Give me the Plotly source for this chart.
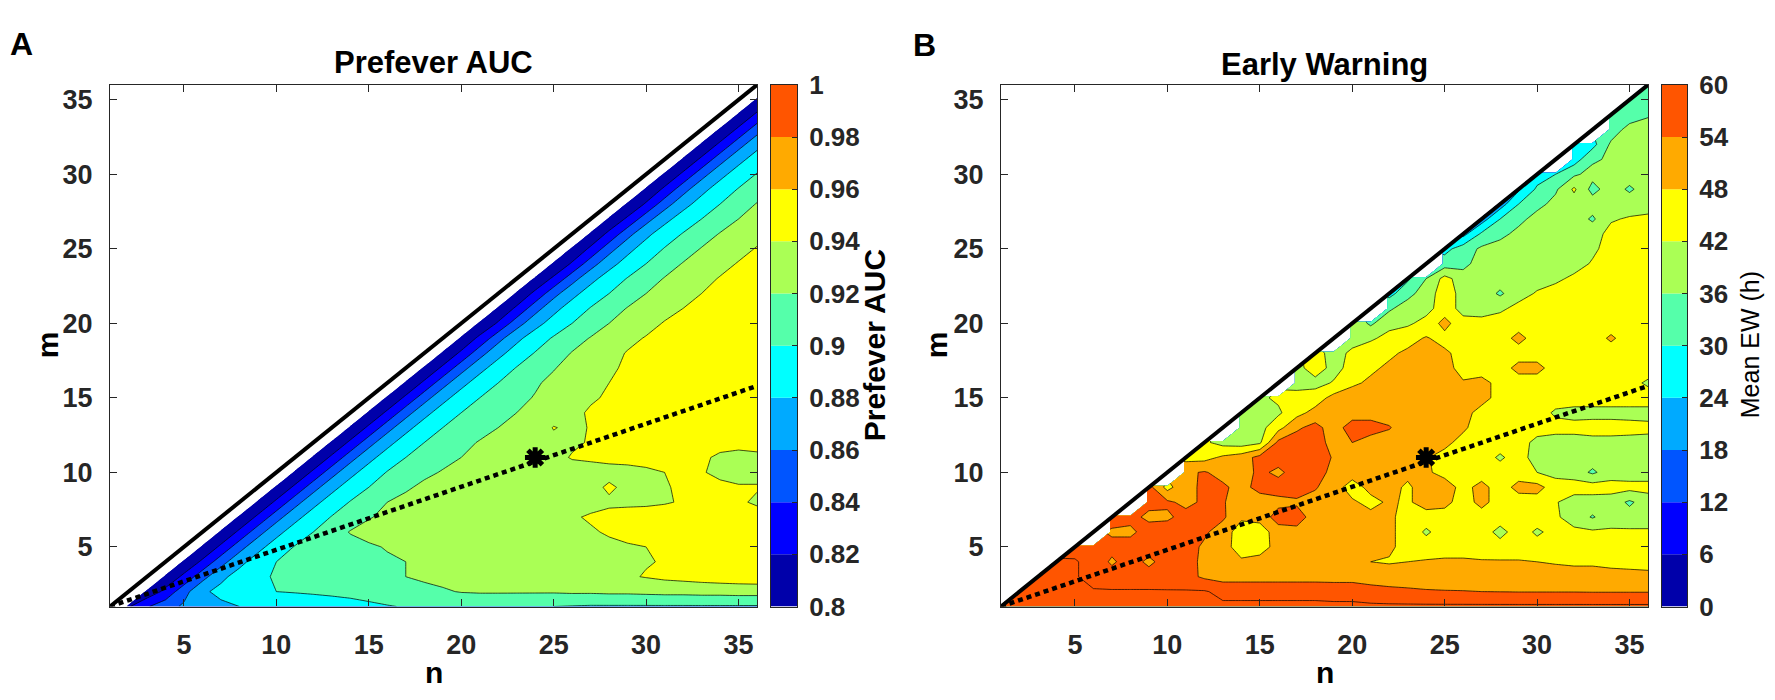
import plotly.graph_objects as go

W, H = 1775, 700

# grid coordinates (window sizes n and m)
n_values = list(range(1, 37))
m_values = list(range(1, 37))

# Panel A: prefever AUC, one row per m, values for n = m+1 .. 36
auc_rows = [
    [0.818, 0.838, 0.852, 0.863, 0.869, 0.875, 0.880, 0.884, 0.887, 0.889, 0.891, 0.893, 0.895, 0.897, 0.899, 0.901, 0.902, 0.903, 0.903, 0.903, 0.903, 0.902, 0.901, 0.900, 0.899, 0.898, 0.898, 0.898, 0.898, 0.898, 0.898, 0.898, 0.898, 0.898, 0.898],
    [0.806, 0.825, 0.853, 0.876, 0.886, 0.892, 0.896, 0.900, 0.901, 0.902, 0.903, 0.904, 0.906, 0.909, 0.912, 0.915, 0.918, 0.921, 0.922, 0.922, 0.922, 0.922, 0.922, 0.923, 0.923, 0.924, 0.924, 0.925, 0.926, 0.926, 0.927, 0.927, 0.928, 0.928],
    [0.806, 0.824, 0.853, 0.875, 0.888, 0.896, 0.902, 0.905, 0.907, 0.909, 0.911, 0.914, 0.917, 0.920, 0.923, 0.925, 0.927, 0.928, 0.929, 0.930, 0.931, 0.932, 0.933, 0.934, 0.936, 0.938, 0.941, 0.944, 0.946, 0.948, 0.950, 0.951, 0.952],
    [0.806, 0.823, 0.852, 0.874, 0.889, 0.900, 0.906, 0.909, 0.912, 0.914, 0.916, 0.918, 0.920, 0.923, 0.926, 0.928, 0.930, 0.931, 0.932, 0.933, 0.934, 0.935, 0.936, 0.937, 0.938, 0.939, 0.941, 0.944, 0.946, 0.948, 0.949, 0.950],
    [0.806, 0.823, 0.852, 0.874, 0.889, 0.901, 0.906, 0.910, 0.914, 0.918, 0.921, 0.924, 0.926, 0.928, 0.930, 0.931, 0.932, 0.933, 0.934, 0.935, 0.936, 0.937, 0.938, 0.939, 0.940, 0.942, 0.944, 0.946, 0.948, 0.949, 0.950],
    [0.806, 0.823, 0.852, 0.874, 0.889, 0.900, 0.912, 0.921, 0.925, 0.927, 0.929, 0.930, 0.931, 0.932, 0.933, 0.934, 0.935, 0.936, 0.937, 0.938, 0.939, 0.941, 0.943, 0.945, 0.947, 0.948, 0.948, 0.948, 0.948, 0.948],
    [0.806, 0.823, 0.852, 0.874, 0.889, 0.901, 0.911, 0.919, 0.923, 0.926, 0.928, 0.930, 0.931, 0.932, 0.933, 0.934, 0.935, 0.937, 0.939, 0.941, 0.943, 0.944, 0.945, 0.946, 0.947, 0.947, 0.947, 0.946, 0.946],
    [0.806, 0.823, 0.852, 0.874, 0.889, 0.901, 0.911, 0.920, 0.924, 0.927, 0.929, 0.931, 0.932, 0.933, 0.934, 0.935, 0.936, 0.937, 0.937, 0.938, 0.938, 0.938, 0.939, 0.941, 0.943, 0.944, 0.942, 0.938],
    [0.806, 0.823, 0.852, 0.874, 0.889, 0.900, 0.910, 0.918, 0.923, 0.926, 0.928, 0.930, 0.931, 0.932, 0.933, 0.934, 0.935, 0.936, 0.942, 0.937, 0.937, 0.939, 0.942, 0.944, 0.943, 0.941, 0.941],
    [0.806, 0.823, 0.852, 0.874, 0.889, 0.901, 0.911, 0.917, 0.921, 0.924, 0.926, 0.928, 0.930, 0.931, 0.933, 0.934, 0.935, 0.936, 0.937, 0.938, 0.940, 0.942, 0.941, 0.937, 0.936, 0.936],
    [0.806, 0.823, 0.852, 0.874, 0.889, 0.900, 0.910, 0.916, 0.920, 0.924, 0.927, 0.930, 0.933, 0.936, 0.941, 0.942, 0.943, 0.943, 0.944, 0.944, 0.945, 0.943, 0.937, 0.936, 0.937],
    [0.806, 0.823, 0.852, 0.874, 0.889, 0.900, 0.909, 0.916, 0.921, 0.925, 0.929, 0.932, 0.935, 0.938, 0.941, 0.944, 0.946, 0.947, 0.948, 0.948, 0.948, 0.946, 0.944, 0.945],
    [0.806, 0.823, 0.852, 0.874, 0.889, 0.900, 0.909, 0.915, 0.920, 0.925, 0.929, 0.941, 0.936, 0.941, 0.944, 0.946, 0.948, 0.948, 0.949, 0.949, 0.949, 0.949, 0.949],
    [0.806, 0.823, 0.852, 0.874, 0.889, 0.900, 0.909, 0.915, 0.920, 0.925, 0.930, 0.936, 0.942, 0.944, 0.946, 0.948, 0.949, 0.949, 0.950, 0.950, 0.950, 0.950],
    [0.806, 0.823, 0.852, 0.874, 0.889, 0.900, 0.909, 0.916, 0.921, 0.927, 0.932, 0.938, 0.942, 0.945, 0.947, 0.948, 0.949, 0.950, 0.950, 0.950, 0.950],
    [0.806, 0.823, 0.852, 0.874, 0.889, 0.900, 0.909, 0.918, 0.924, 0.930, 0.936, 0.940, 0.944, 0.947, 0.948, 0.949, 0.950, 0.950, 0.950, 0.950],
    [0.806, 0.823, 0.852, 0.874, 0.889, 0.901, 0.910, 0.919, 0.926, 0.932, 0.938, 0.942, 0.945, 0.947, 0.948, 0.949, 0.950, 0.950, 0.950],
    [0.806, 0.823, 0.852, 0.874, 0.889, 0.901, 0.911, 0.921, 0.928, 0.935, 0.941, 0.945, 0.948, 0.949, 0.950, 0.950, 0.950, 0.950],
    [0.806, 0.824, 0.853, 0.875, 0.890, 0.902, 0.912, 0.921, 0.929, 0.936, 0.941, 0.945, 0.948, 0.949, 0.950, 0.950, 0.950],
    [0.805, 0.822, 0.851, 0.873, 0.888, 0.900, 0.910, 0.920, 0.928, 0.935, 0.941, 0.945, 0.948, 0.949, 0.950, 0.950],
    [0.806, 0.823, 0.852, 0.874, 0.889, 0.901, 0.911, 0.921, 0.928, 0.935, 0.940, 0.944, 0.947, 0.949, 0.950],
    [0.806, 0.824, 0.853, 0.874, 0.889, 0.900, 0.910, 0.920, 0.927, 0.934, 0.940, 0.944, 0.947, 0.949],
    [0.806, 0.823, 0.852, 0.874, 0.889, 0.901, 0.911, 0.921, 0.928, 0.935, 0.941, 0.945, 0.948],
    [0.805, 0.822, 0.851, 0.873, 0.888, 0.900, 0.911, 0.921, 0.928, 0.935, 0.941, 0.945],
    [0.806, 0.823, 0.852, 0.874, 0.889, 0.901, 0.911, 0.921, 0.928, 0.935, 0.941],
    [0.806, 0.824, 0.853, 0.875, 0.890, 0.901, 0.911, 0.921, 0.928, 0.935],
    [0.806, 0.823, 0.852, 0.874, 0.889, 0.900, 0.910, 0.920, 0.928],
    [0.805, 0.822, 0.851, 0.873, 0.888, 0.900, 0.911, 0.921],
    [0.806, 0.823, 0.852, 0.874, 0.889, 0.901, 0.911],
    [0.806, 0.823, 0.852, 0.874, 0.889, 0.901],
    [0.806, 0.823, 0.852, 0.874, 0.889],
    [0.806, 0.823, 0.852, 0.874],
    [0.806, 0.823, 0.852],
    [0.806, 0.823],
    [0.806],
]

# Panel B: mean early warning (h), one row per m, values for n = m .. 36
ew_rows = [
    [61.5, 61.5, 61.5, 61.5, 61.5, 61.5, 61.5, 61.5, 61.5, 61.5, 61.5, 61.5, 61, 61, 61, 61, 61, 61, 61, 61, 61, 61, 61, 61, 61, 61, 61, 61, 61, 61, 61, 61, 61, 61, 61, 61],
    [61.5, 61.5, 61, 61, 60.5, 60.5, 60.5, 60.5, 60.5, 60.5, 60.5, 58.5, 58.5, 58.5, 58.5, 58.5, 58.5, 58, 58, 56.5, 55.5, 55, 54.5, 54.3, 54.2, 54, 53.9, 53.8, 53.8, 53.8, 53.8, 53.7, 53.7, 53.7, 53.7],
    [60.5, 60.5, 60.5, 58, 57, 57, 57, 56.5, 56, 53, 51.5, 51.5, 51.5, 51.5, 51.5, 51.5, 51.5, 51.5, 51, 51, 51, 51, 51, 51, 51, 50.5, 50.5, 50.5, 50.5, 50.5, 50.5, 50, 50, 49.5],
    [60.5, 60.5, 58, 53, 57, 52.5, 57, 56.5, 52.5, 51, 49, 50.5, 51, 51, 50.5, 50, 49.5, 48, 47.5, 48, 48.5, 49, 49, 48.5, 48.5, 48.5, 48, 47.5, 47, 47, 46.5, 46, 46],
    [58, 57, 56, 57, 57, 57, 56.5, 53, 50.5, 45, 45, 50.5, 51, 51, 50.5, 50, 49.5, 49, 46, 45, 45, 45, 45, 44.5, 44.5, 44.5, 45, 45, 45, 45.5, 45.5, 45.5],
    [None, 53, 52.5, 57, 57, 57, 55, 51, 45, 45, 51, 52, 51, 51, 50.5, 50, 49, 46, 41, 45, 45, 45, 40, 45, 41, 44, 43.5, 43, 43, 43, 43],
    [57, 56, 52.5, 53, 56, 56, 55, 49, 50, 57, 57, 51, 51, 50.5, 50, 49, 46, 45, 45, 45, 45, 45, 45, 45, 43, 39, 35.5, 39, 38.5, 38.5],
    [None, 56, 55, 52.5, 55, 54.5, 51, 51, 52, 53, 52, 51, 49, 46, 49, 47, 51, 50, 45, 50, 45, 45, 45.5, 42.5, 39, 39, 39, 35, 39],
    [56, 46, 52.5, 55, 55, 52, 56, 57, 57, 54.5, 51, 45, 50, 50, 47, 51, 51, 46, 50, 45, 50, 50, 45, 45, 45, 44.5, 44, 44],
    [None, 53, 54.5, 52, 51, 55.5, 52.5, 57, 57, 52, 51, 50.5, 50, 49.5, 49, 46, 45, 45, 45, 45, 42, 40, 39, 35, 39, 39, 39],
    [46, 46, 49, 51, 56, 57, 57, 57, 53.5, 51, 51, 50.5, 50, 48.5, 46, 45, 45, 41, 45, 39, 39, 39, 39, 40, 39, 39],
    [43, 40, 39, 41, 55.5, 57, 56.5, 52, 54, 51, 50.5, 50, 50, 49.5, 46, 45, 45, 45, 40, 39.5, 39.5, 40, 40, 40, 40],
    [None, 40, 40, 46, 53, 56, 51, 57, 57, 54.5, 50, 50, 50, 49, 45, 45, 45, 45, 44, 44, 44.5, 44.5, 44, 43.5],
    [40, 40, 41, 46, 50, 51, 51, 51, 51, 51, 51, 51, 50, 46, 45, 46, 45, 41, 40, 40, 40, 40, 40],
    [41, 43, 44, 45, 50, 51, 51, 51, 51, 51, 51, 50, 50, 46, 45, 45, 45, 45, 45, 45, 45, 45],
    [None, 40, 40, 42.5, 47, 49, 50, 51, 51, 50, 48.5, 50, 46, 45, 45, 45, 45, 45, 45, 44, 41],
    [40, 45, 40, 44, 47, 49, 50, 50.5, 50, 46, 45, 45, 50, 50, 45, 45, 45, 45, 45, 45],
    [44, 40, 43, 46, 47, 49, 50, 49, 46, 45, 45, 45, 45, 45, 45, 45, 45, 45, 45],
    [None, 40, 41, 44, 46, 48.5, 46, 45, 45, 45, 50, 45, 45, 45, 45, 49, 45, 43],
    [40, 35, 40, 41, 44, 50, 44, 43.5, 44.5, 45, 45, 45, 45, 45, 45, 45, 45],
    [None, 35, 39, 40, 45, 40, 40, 41, 43.5, 44.5, 45, 45, 45, 45, 45, 45],
    [28, 34, 39, 45, 40, 39.5, 35, 40, 42.5, 44, 45, 45, 45, 45, 45],
    [29, 36, 44, 39, 39, 39, 39, 40, 41, 43, 44.5, 45, 45, 45],
    [None, 33, 34, 39, 39, 39, 39, 39, 40, 42.5, 44, 45, 45],
    [28, 33, 37, 39, 39, 39, 39, 39, 41, 44, 45, 45],
    [22, 31, 34, 38, 39, 39, 39, 40, 43.5, 44.5, 45],
    [21, 30, 34, 38.5, 39, 39.5, 35, 41.5, 42.5, 43],
    [21, 30, 34, 38, 39, 39, 39, 39.5, 40],
    [23, 31, 35, 43, 34, 39, 35, 39],
    [27, 30, 35, 38, 39, 39, 39],
    [None, 27, 35, 37, 39, 39],
    [27, 28, 37, 38, 39],
    [None, 33, 38, 38],
    [32, 33, 35.5],
    [33, 33],
    [33],
]

auc_levels = [0.80, 0.82, 0.84, 0.86, 0.88, 0.90, 0.92, 0.94, 0.96, 0.98, 1.00]
auc_tick_text = ["0.8", "0.82", "0.84", "0.86", "0.88", "0.9", "0.92", "0.94", "0.96", "0.98", "1"]
ew_levels = [0, 6, 12, 18, 24, 30, 36, 42, 48, 54, 60]
ew_tick_text = ["0", "6", "12", "18", "24", "30", "36", "42", "48", "54", "60"]

# MATLAB jet(10)
jet10 = ["#0000AA", "#0000FF", "#0055FF", "#00AAFF", "#00FFFF",
         "#55FFAA", "#AAFF55", "#FFFF00", "#FFAA00", "#FF5500"]

diag_n, diag_m = [1, 36], [1, 36]
ratio_n, ratio_m = [1, 36], [1, 15.8]
best_n, best_m = [24], [11]

FONT = "Liberation Sans, Arial, Helvetica, sans-serif"
INK = "#262626"


def to_grid(rows, lead):
    """Place each row on the full n grid; lead = number of empty cells before n=m."""
    grid = []
    for i, m in enumerate(m_values):
        row = list(rows[i]) if i < len(rows) else []
        line = [None] * (m - 1 + lead) + row
        line = (line + [None] * len(n_values))[:len(n_values)]
        grid.append(line)
    return grid


auc_grid = [[None if v is None else v * 100 for v in r] for r in to_grid(auc_rows, 1)]
ew_grid = to_grid(ew_rows, 0)

# band k (between level k and k+1) is coloured at (k+1)/11 of the scale
band_scale = [[0, jet10[0]]] + [[(k + 1) / 11, c] for k, c in enumerate(jet10)] + [[1, jet10[-1]]]


def px_x(p):
    return p / W


def px_y(p):
    return 1 - p / H


fig = go.Figure()

panels = [
    ("x", "y", auc_grid, [round(v * 100) for v in auc_levels]),
    ("x2", "y2", ew_grid, ew_levels),
]
for xa, ya, grid, lv in panels:
    fig.add_trace(go.Contour(
        x=n_values, y=m_values, z=grid,
        autocontour=False,
        contours=dict(start=lv[0], end=lv[-1], size=lv[1] - lv[0], coloring="fill", showlines=True),
        line=dict(color="black", width=0.7, smoothing=0),
        colorscale=band_scale, showscale=False, connectgaps=False,
        hoverinfo="skip", xaxis=xa, yaxis=ya,
    ))
    fig.add_trace(go.Scatter(x=diag_n, y=diag_m, mode="lines",
                             line=dict(color="black", width=4),
                             xaxis=xa, yaxis=ya, hoverinfo="skip"))
    fig.add_trace(go.Scatter(x=ratio_n, y=ratio_m, mode="lines",
                             line=dict(color="black", width=4.5, dash="5px,4px"),
                             xaxis=xa, yaxis=ya, hoverinfo="skip"))
    fig.add_trace(go.Scatter(x=best_n, y=best_m, mode="markers",
                             marker=dict(symbol="asterisk", size=17, color="black",
                                         line=dict(color="black", width=5)),
                             xaxis=xa, yaxis=ya, hoverinfo="skip"))

# colour bars drawn as stacked bands
bars = [
    ("x3", "y3", [round(v * 100) for v in auc_levels]),
    ("x4", "y4", ew_levels),
]
for xa, ya, lv in bars:
    fig.add_trace(go.Bar(
        x=[0] * (len(lv) - 1),
        y=[b - a for a, b in zip(lv[:-1], lv[1:])],
        base=lv[:-1], width=1,
        marker=dict(color=jet10, line=dict(width=0)),
        xaxis=xa, yaxis=ya, hoverinfo="skip",
    ))

tick_font = dict(family=FONT, size=27, color=INK, weight="bold")
main_axis = dict(range=[1, 36], tickvals=[5, 10, 15, 20, 25, 30, 35],
                 showgrid=False, zeroline=False, showline=True, mirror="ticks",
                 linecolor=INK, linewidth=1.2, ticks="inside", ticklen=7,
                 tickwidth=1.2, tickcolor=INK, tickfont=tick_font)
y_dom = [px_y(618), px_y(73)]

cb_x = dict(range=[-0.5, 0.5], showticklabels=False, ticks="", showgrid=False,
            zeroline=False, showline=True, mirror=True, linecolor=INK, linewidth=1,
            fixedrange=True)
cb_y = dict(side="right", showgrid=False, zeroline=False, showline=True, mirror=True,
            linecolor=INK, linewidth=1, ticks="inside", ticklen=5, tickcolor=INK,
            tickfont=dict(family=FONT, size=26, color=INK, weight="bold"),
            ticklabelstandoff=6)

fig.update_layout(
    width=W, height=H, margin=dict(l=0, r=0, t=0, b=0),
    paper_bgcolor="white", plot_bgcolor="white", showlegend=False, barmode="overlay",
    xaxis=dict(main_axis, domain=[px_x(110), px_x(757)], anchor="y", ticklabelstandoff=14),
    yaxis=dict(main_axis, domain=y_dom, anchor="x", ticklabelstandoff=11),
    xaxis2=dict(main_axis, domain=[px_x(1001), px_x(1648)], anchor="y2", ticklabelstandoff=14),
    yaxis2=dict(main_axis, domain=y_dom, anchor="x2", ticklabelstandoff=11),
    xaxis3=dict(cb_x, domain=[px_x(771), px_x(797)], anchor="y3"),
    yaxis3=dict(cb_y, domain=y_dom, anchor="x3", range=[80, 100],
                tickvals=[round(v * 100) for v in auc_levels], ticktext=auc_tick_text),
    xaxis4=dict(cb_x, domain=[px_x(1662), px_x(1687)], anchor="y4"),
    yaxis4=dict(cb_y, domain=y_dom, anchor="x4", range=[0, 60],
                tickvals=ew_levels, ticktext=ew_tick_text),
)


def label(text, x, y, size, angle=0, weight="bold"):
    fig.add_annotation(text=text, x=px_x(x), y=px_y(y), xref="paper", yref="paper",
                       showarrow=False, textangle=angle, xanchor="center", yanchor="middle",
                       font=dict(family=FONT, size=size, color="black", weight=weight))


label("A", 21, 30, 32)
label("B", 924, 31, 32)
label("Prefever AUC", 433.5, 50, 31)
label("Early Warning", 1324.5, 52, 31)
label("n", 433.5, 687, 30)
label("n", 1324.5, 687, 30)
label("m", 47, 345, 30, -90)
label("m", 936, 345, 30, -90)
label("Prefever AUC", 874, 345, 30, -90)
label("Mean EW (h)", 1750, 345, 25, -90, "normal")

# the page body must not add its default margin around the figure
fig.write_html(
    "out.html",
    config={"displayModeBar": False},
    post_script="document.body.style.margin='0';document.body.style.overflow='hidden';",
)
